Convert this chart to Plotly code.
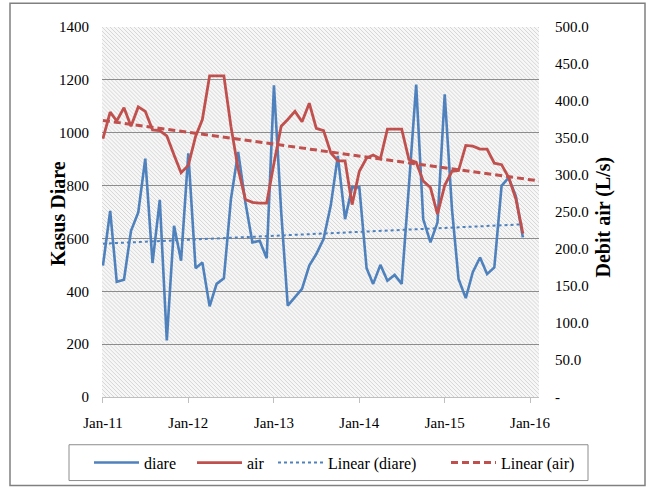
import base64
import numpy as np
import pandas as pd
import plotly.graph_objects as go

# ---- data (monthly, Jan-2011 .. Dec-2015) ----
months = pd.date_range("2011-01-01", "2015-12-01", freq="MS")
diare = [497, 704, 436, 444, 629, 698, 902, 507, 746, 214, 648, 516,
         922, 487, 509, 343, 428, 449, 748, 927, 736, 585, 591, 525,
         1179, 700, 346, 378, 409, 497, 541, 598, 725, 912, 673, 793,
         793, 487, 428, 500, 440, 462, 428, 800, 1182, 673, 585, 660,
         1145, 711, 447, 374, 472, 528, 465, 490, 799, 830, 760, 604]
air = [349, 385, 373, 391, 366, 392, 386, 361, 360, 353, 327, 303,
       313, 352, 375, 434, 434, 434, 366, 308, 267, 263, 262, 262,
       316, 366, 375, 386, 372, 397, 363, 360, 330, 319, 319, 260,
       305, 323, 327, 322, 362, 362, 362, 321, 317, 292, 283, 247,
       286, 305, 306, 340, 339, 335, 335, 316, 314, 297, 268, 221]

left_ticks = [0, 200, 400, 600, 800, 1000, 1200, 1400]
right_ticks = [0, 50, 100, 150, 200, 250, 300, 350, 400, 450, 500]
right_labels = ["-", "50.0", "100.0", "150.0", "200.0", "250.0",
                "300.0", "350.0", "400.0", "450.0", "500.0"]
x_tick_dates = ["2011-01-01", "2012-01-01", "2013-01-01",
                "2014-01-01", "2015-01-01", "2016-01-01"]
x_tick_labels = ["Jan-11", "Jan-12", "Jan-13", "Jan-14", "Jan-15", "Jan-16"]

# ---- linear trendlines (least squares on date serial) ----
t = (months - months[0]).days.values.astype(float)
cd = np.polyfit(t, diare, 1)
ca = np.polyfit(t, air, 1)
x_end = pd.Timestamp("2016-02-08")
t_ext = np.array([0.0, float((x_end - months[0]).days)])
trend_d = np.polyval(cd, t)
trend_a = np.polyval(ca, t_ext)

BLUE = "#4F81BD"
RED = "#C0504D"
FONT = "Liberation Serif, Times New Roman, serif"

fig = go.Figure()
fig.add_trace(go.Scatter(x=months, y=diare, name="diare", mode="lines",
                         legend="legend", line=dict(color=BLUE, width=2.6)))
fig.add_trace(go.Scatter(x=months, y=air, name="air", mode="lines", yaxis="y2",
                         legend="legend2", line=dict(color=RED, width=2.8)))
fig.add_trace(go.Scatter(x=months, y=trend_d, name="Linear (diare)", mode="lines",
                         legend="legend3", line=dict(color=BLUE, width=2, dash="dot")))
fig.add_trace(go.Scatter(x=[months[0], x_end], y=trend_a, name="Linear (air)",
                         mode="lines", yaxis="y2", legend="legend4",
                         line=dict(color=RED, width=3, dash="7px,4px")))

# hatched plot background
W, H = 437, 372
svg = (f'<svg xmlns="http://www.w3.org/2000/svg" width="{W}" height="{H}">'
       '<defs><pattern id="p" width="4" height="4" patternUnits="userSpaceOnUse">'
       '<rect width="4" height="4" fill="#f7f7f7"/>'
       '<path d="M-1,-1 L5,5 M-1,3 L1,5 M3,-1 L5,1" stroke="#d6d6d6" stroke-width="1"/>'
       '</pattern></defs>'
       f'<rect width="{W}" height="{H}" fill="url(#p)"/></svg>')
src = "data:image/svg+xml;base64," + base64.b64encode(svg.encode()).decode()

L, R, T, B = 102, 113, 27, 93
def px(xp):
    return (xp - L) / W
def py(yp):
    return (492 - B - yp) / H

def leg(xpix):
    return dict(orientation="h", x=px(xpix), y=py(465), xanchor="left", yanchor="middle",
                borderwidth=0, itemwidth=45, bgcolor="rgba(0,0,0,0)",
                font=dict(family=FONT, size=16, color="black"))

fig.update_layout(
    width=652, height=492,
    margin=dict(l=L, r=R, t=T, b=B),
    paper_bgcolor="white", plot_bgcolor="rgba(0,0,0,0)",
    font=dict(family=FONT, size=15, color="black"),
    showlegend=True,
    legend=leg(89), legend2=leg(192), legend3=leg(273), legend4=leg(446),
    xaxis=dict(type="date", range=["2010-12-28", "2016-02-08"],
               tickvals=x_tick_dates, ticktext=x_tick_labels,
               tickfont=dict(family=FONT, size=15),
               showgrid=False, showline=True, linecolor="#bfbfbf", linewidth=1,
               ticks="outside", ticklen=5, tickcolor="#bfbfbf",
               ticklabelstandoff=7, zeroline=False),
    yaxis=dict(range=[0, 1400], tickvals=left_ticks, showgrid=True,
               tickfont=dict(family=FONT, size=15),
               gridcolor="#8c8c8c", gridwidth=1, zeroline=False, showline=False,
               ticks="", ticklabelstandoff=12),
    yaxis2=dict(range=[0, 500], tickvals=right_ticks, ticktext=right_labels,
                tickfont=dict(family=FONT, size=15),
                overlaying="y", side="right", showgrid=False, zeroline=False,
                showline=False, ticks="", ticklabelstandoff=15),
    images=[dict(source=src, xref="paper", yref="paper", x=0, y=1,
                 sizex=1, sizey=1, xanchor="left", yanchor="top",
                 sizing="stretch", layer="below")],
    annotations=[
        dict(text="<b>Kasus Diare</b>", xref="paper", yref="paper", x=px(45), y=py(215),
             showarrow=False, textangle=-90, font=dict(family=FONT, size=20)),
        dict(text="<b>Debit air (L/s)</b>", xref="paper", yref="paper", x=px(617), y=py(218),
             showarrow=False, textangle=-90, font=dict(family=FONT, size=20)),
    ],
    shapes=[
        dict(type="rect", xref="paper", yref="paper", x0=px(10), x1=px(645),
             y0=py(488), y1=py(3), line=dict(color="#808080", width=1.5),
             fillcolor="rgba(0,0,0,0)", layer="above"),
        dict(type="rect", xref="paper", yref="paper", x0=px(69), x1=px(588),
             y0=py(483), y1=py(447), line=dict(color="#8c8c8c", width=1),
             fillcolor="rgba(0,0,0,0)", layer="above"),
    ],
)

fig.write_html("out.html", config={"displayModeBar": False},
               post_script="document.body.style.margin='0px';")
